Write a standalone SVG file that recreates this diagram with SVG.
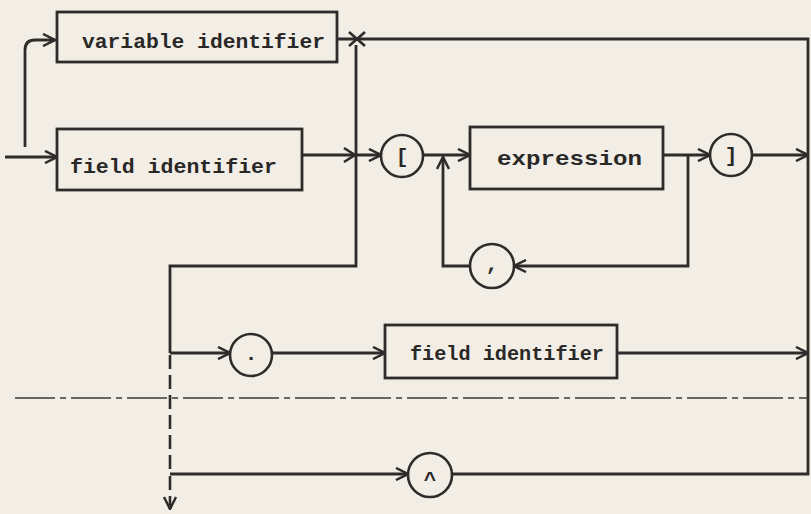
<svg xmlns="http://www.w3.org/2000/svg" width="811" height="514" viewBox="0 0 811 514">
<defs>
<style>
.bg{fill:#f2eee6}
.box{fill:none;stroke:#2e2c2a;stroke-width:2.8}
.term{fill:none;stroke:#2e2c2a;stroke-width:2.6}
.ln{fill:none;stroke:#2e2c2a;stroke-width:2.8;stroke-linejoin:miter}
.dash{fill:none;stroke:#2e2c2a;stroke-width:2.6;stroke-dasharray:14 6}
.dd{fill:none;stroke:#3a3836;stroke-width:1.6;stroke-dasharray:40 5 6 5}
.ah{fill:none;stroke:#2e2c2a;stroke-width:2.6}
.t{font-family:"Liberation Mono","DejaVu Sans Mono",monospace;font-size:21px;font-weight:bold;fill:#2a2826}
.s{font-family:"Liberation Mono","DejaVu Sans Mono",monospace;font-size:21px;font-weight:bold;fill:#2a2826;text-anchor:middle}
</style>
<marker id="arr" viewBox="0 0 14 14" refX="13" refY="7" markerWidth="14" markerHeight="14" markerUnits="userSpaceOnUse" orient="auto">
<path d="M1,1 L13,7 L1,13" fill="none" stroke="#2e2c2a" stroke-width="2.5"/>
</marker>
</defs>
<rect class="bg" x="0" y="0" width="811" height="514"/>

<g id="connectors">
<path class="ln" d="M5,157 H57" marker-end="url(#arr)"/>
<path class="ln" d="M25,147 V50 Q25,40 35,40 H55" marker-end="url(#arr)"/>
<path class="ln" d="M337,39 H808 V474 H452"/>
<path class="ah" d="M349,32 L357,39 L349,46 M365,32 L357,39 L365,46"/>
<path class="ln" d="M302,155 H381" marker-end="url(#arr)"/>
<path class="ah" d="M344,148 L355,155 L344,162"/>
<path class="ln" d="M356,45 V266 H170 V353"/>
<path class="dash" d="M170,355 V474"/>
<path class="dash" d="M170,476 V509" marker-end="url(#arr)"/>
<path class="ln" d="M423,155 H470" marker-end="url(#arr)"/>
<path class="ln" d="M663,155 H710" marker-end="url(#arr)"/>
<path class="ln" d="M752,155 H808" marker-end="url(#arr)"/>
<path class="ln" d="M688,155 V266 H514" marker-end="url(#arr)"/>
<path class="ln" d="M470,266 H443 V157" marker-end="url(#arr)"/>
<path class="ln" d="M170,353 H230" marker-end="url(#arr)"/>
<path class="ln" d="M272,353 H385" marker-end="url(#arr)"/>
<path class="ln" d="M617,353 H808" marker-end="url(#arr)"/>
<path class="ln" d="M170,474 H408" marker-end="url(#arr)"/>
<path class="dd" d="M15,398 H808"/>
</g>

<g id="variable-identifier">
<rect class="box" x="57" y="12" width="280" height="50"/>
<text class="t" x="82" y="48" textLength="243" lengthAdjust="spacingAndGlyphs">variable identifier</text>
</g>
<g id="field-identifier-1">
<rect class="box" x="57" y="129" width="245" height="61"/>
<text class="t" x="70" y="173" textLength="207" lengthAdjust="spacingAndGlyphs">field identifier</text>
</g>
<g id="lbracket">
<circle class="term" cx="402" cy="156" r="21"/>
<text class="s" x="402" y="163">[</text>
</g>
<g id="expression">
<rect class="box" x="470" y="127" width="193" height="62"/>
<text class="t" x="497" y="165" textLength="145" lengthAdjust="spacingAndGlyphs">expression</text>
</g>
<g id="rbracket">
<circle class="term" cx="731" cy="155" r="21"/>
<text class="s" x="731" y="162">]</text>
</g>
<g id="comma">
<circle class="term" cx="492" cy="266" r="22"/>
<text class="s" x="492" y="270">,</text>
</g>
<g id="dot">
<circle class="term" cx="251" cy="355" r="21"/>
<text class="s" x="251" y="360">.</text>
</g>
<g id="field-identifier-2">
<rect class="box" x="385" y="325" width="232" height="53"/>
<text class="t" x="410" y="360" textLength="194" lengthAdjust="spacingAndGlyphs">field identifier</text>
</g>
<g id="caret">
<circle class="term" cx="430" cy="475" r="22"/>
<text class="s" x="430" y="486">^</text>
</g>
</svg>
